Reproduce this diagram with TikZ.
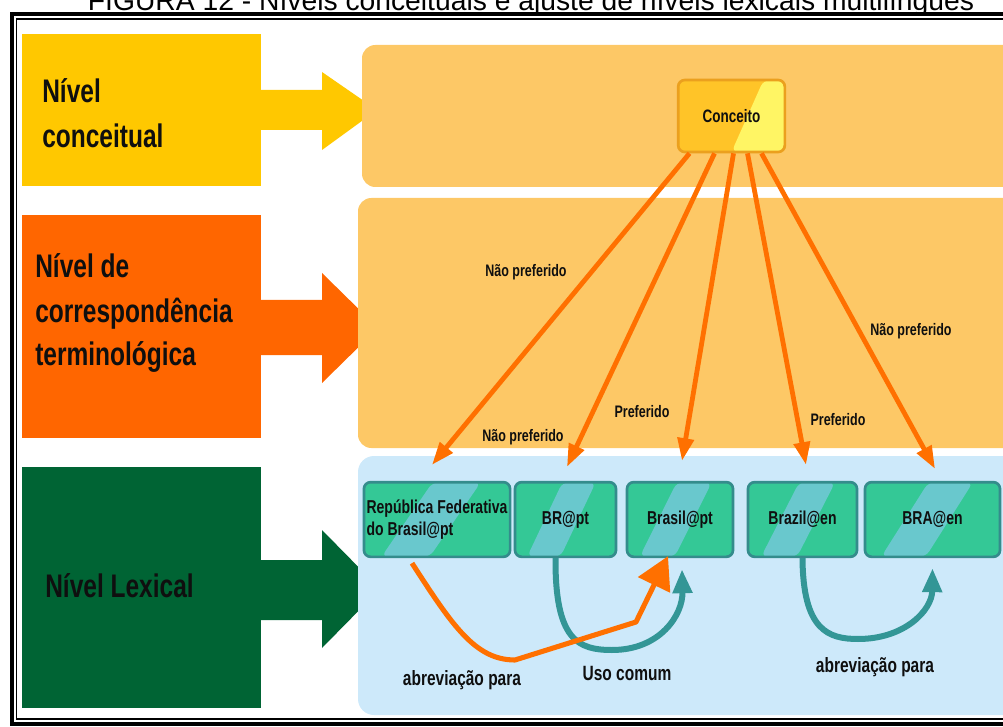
\documentclass[tikz,border=0pt]{standalone}
\usepackage{fontspec}
\setmainfont{Liberation Sans}
\newfontfamily\condensed[FakeStretch=0.75]{Liberation Sans}
\usetikzlibrary{arrows.meta,calc}

\definecolor{lvyellow}{RGB}{255,200,0}
\definecolor{lvorange}{RGB}{255,102,0}
\definecolor{lvgreen}{RGB}{0,100,52}
\definecolor{panelorange}{RGB}{253,200,102}
\definecolor{panelblue}{RGB}{205,233,250}
\definecolor{linkorange}{RGB}{255,112,0}
\definecolor{linkteal}{RGB}{51,150,150}
\definecolor{termedge}{RGB}{52,140,140}
\definecolor{termgreen}{RGB}{52,200,150}
\definecolor{termband}{RGB}{105,200,205}
\definecolor{conceptdark}{RGB}{255,196,40}
\definecolor{conceptlight}{RGB}{255,245,100}
\definecolor{conceptedge}{RGB}{235,160,30}
\definecolor{ink}{RGB}{15,15,15}

\tikzset{
  levelfont/.style={font=\condensed\bfseries\fontsize{24.5}{30}\selectfont, text=ink, inner sep=0pt, anchor=base west},
  lbl/.style={font=\condensed\bfseries\fontsize{12.5}{14}\selectfont, text=ink, inner sep=1.5pt},
  biglbl/.style={font=\condensed\bfseries\fontsize{15.5}{18}\selectfont, text=ink, inner sep=1pt},
  termbox/.style={draw=termedge, line width=2pt, rounded corners=5pt, fill=termgreen,
    minimum height=56pt, inner sep=2pt, text=ink,
    font=\condensed\bfseries\fontsize{14}{16}\selectfont,
    path picture={
      \fill[termband]
        ($(path picture bounding box.south west)!0.12!(path picture bounding box.south east)$) --
        ($(path picture bounding box.south west)!0.45!(path picture bounding box.south east)$) --
        ($(path picture bounding box.north west)!0.80!(path picture bounding box.north east)$) --
        ($(path picture bounding box.north west)!0.47!(path picture bounding box.north east)$) -- cycle;
    }},
  conceptbox/.style={draw=conceptedge, line width=2pt, rounded corners=5pt, fill=conceptdark,
    minimum width=80pt, minimum height=54pt, text=ink,
    font=\condensed\bfseries\fontsize{13.5}{16}\selectfont,
    path picture={
      \fill[conceptlight]
        ($(path picture bounding box.south west)!0.50!(path picture bounding box.south east)$) --
        (path picture bounding box.south east) --
        (path picture bounding box.north east) --
        ($(path picture bounding box.north west)!0.80!(path picture bounding box.north east)$) -- cycle;
    }},
  linkarrow/.style={draw=linkorange, line width=3.6pt, -{Triangle[width=12pt,length=17pt]}},
  tealarrow/.style={draw=linkteal, line width=4.5pt, -{Triangle[width=14pt,length=18pt]}},
  curvearrow/.style={draw=linkorange, line width=3.8pt, line join=round, -{Triangle[width=26pt,length=24pt]}},
  frameouter/.style={draw=black, line width=3pt},
  frameinner/.style={draw=black, line width=0.9pt},
}

\begin{document}
\begin{tikzpicture}[x=0.75pt,y=-0.75pt]
\useasboundingbox (0,0) rectangle (1003,727);
\clip (0,0) rectangle (1003,727);

% caption, cut by the top of the page
\node[anchor=base, font=\fontsize{21.2}{24}\selectfont, inner sep=0pt] (caption) at (531,11)
  {FIGURA 12 - Níveis conceituais e ajuste de níveis lexicais multilíngues};

% thick-thin page border
\draw[frameouter] (1010,14) -- (11.5,14) -- (11.5,724) -- (1010,724);
\draw[frameinner] (1010,19) -- (16.5,19) -- (16.5,719) -- (1010,719);

% level boxes on the left
\fill[lvyellow] (22,34) rectangle (261,186);
\fill[lvorange] (22,215) rectangle (261,438);
\fill[lvgreen] (22,467) rectangle (261,708);

% block arrows pointing at the panels
\fill[lvyellow] (261,90) -- (322,90) -- (322,72) -- (377,110) -- (322,150) -- (322,130) -- (261,130) -- cycle;
\fill[lvorange] (261,300) -- (322,300) -- (322,273) -- (378,328) -- (322,383) -- (322,355) -- (261,355) -- cycle;
\fill[lvgreen] (261,560) -- (322,560) -- (322,530) -- (380,589) -- (322,648) -- (322,620) -- (261,620) -- cycle;

% level names
\node[levelfont] (lvc1) at (42,103) {Nível};
\node[levelfont] (lvc2) at (42,148) {conceitual};
\node[levelfont] (lvt1) at (35,278) {Nível de};
\node[levelfont] (lvt2) at (35,323) {correspondência};
\node[levelfont] (lvt3) at (35,365) {terminológica};
\node[levelfont] (lvl1) at (45,597) {Nível Lexical};

% panels on the right
\fill[panelorange, rounded corners=10pt] (362,45) rectangle (1040,187);
\fill[panelorange, rounded corners=10pt] (358,198) rectangle (1040,448);
\fill[panelblue, rounded corners=12pt] (358,456) rectangle (1040,715);

% concept and terms
\node[conceptbox] (concept) at (731.5,116) {Conceito};
\node[termbox, minimum width=105pt, align=left] (rep) at (437,519.5) {República Federativa\\do Brasil@pt};
\node[termbox, minimum width=75.75pt] (brpt) at (565.5,519.5) {BR@pt};
\node[termbox, minimum width=79.5pt] (brasilpt) at (680,519.5) {Brasil@pt};
\node[termbox, minimum width=81.75pt] (brazilen) at (802.5,519.5) {Brazil@en};
\node[termbox, minimum width=101.25pt] (braen) at (932.5,519.5) {BRA@en};

% concept to term links
\draw[linkarrow] ($(concept.south)+(-42,0)$) -- ($(rep.north)+(-5,-16)$);
\draw[linkarrow] ($(concept.south)+(-17,0)$) -- ($(brpt.north)+(1.5,-14)$);
\draw[linkarrow] ($(concept.south)+(2,0)$) -- ($(brasilpt.north)+(2,-20)$);
\draw[linkarrow] ($(concept.south)+(16,0)$) -- ($(brazilen.north)+(3.5,-16)$);
\draw[linkarrow] ($(concept.south)+(30,0)$) -- ($(braen.north)+(2.5,-12)$);

% link labels
\node[lbl] (np1) at (526,272) {Não preferido};
\node[lbl, fill=panelorange] (np2) at (523,437) {Não preferido};
\node[lbl] (pf1) at (642,412) {Preferido};
\node[lbl] (pf2) at (838,420) {Preferido};
\node[lbl] (np3) at (911,331) {Não preferido};

% relations between terms
\draw[tealarrow] ($(brpt.south)+(-10,0)$) .. controls (555,640) and (578,650) .. (612,650)
  .. controls (660,650) and (683,615) .. ($(brasilpt.south)+(2,11)$);
\draw[tealarrow] (brazilen.south) .. controls (803,630) and (828,639) .. (858,639)
  .. controls (905,639) and (932,610) .. ($(braen.south)+(0,10)$);
\draw[curvearrow] ($(rep.south)+(-25,5)$) .. controls (452,625) and (475,660) .. (515,660)
  -- (636,622) -- ($(brasilpt.south)+(-12,-2)$);

\node[biglbl] (abr1) at (462,680) {abreviação para};
\node[biglbl] (uso) at (627,673) {Uso comum};
\node[biglbl] (abr2) at (875,667) {abreviação para};
\end{tikzpicture}
\end{document}
